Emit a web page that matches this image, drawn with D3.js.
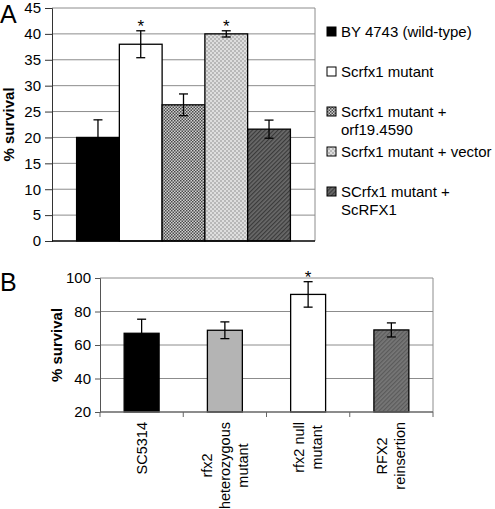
<!DOCTYPE html>
<html><head><meta charset="utf-8">
<script src="https://cdn.jsdelivr.net/npm/d3@7"></script>
<style>
body{margin:0;background:#fff;}
text{font-family:"Liberation Sans",Arial,sans-serif;fill:#000;}
</style></head>
<body><svg id="c" width="495" height="509"></svg>
<script>
// Panel A data
const seriesA = ["BY 4743 (wild-type)", "Scrfx1 mutant", "Scrfx1 mutant + orf19.4590", "Scrfx1 mutant + vector", "SCrfx1 mutant + ScRFX1"];
const legendLinesA = [["BY 4743 (wild-type)"], ["Scrfx1 mutant"], ["Scrfx1 mutant +", "orf19.4590"], ["Scrfx1 mutant + vector"], ["SCrfx1 mutant +", "ScRFX1"]];
const valuesA = [20, 38, 26.3, 40, 21.6];
const errorsA = [3.4, 2.6, 2.1, 0.6, 1.75];
const signifA = [false, true, false, true, false];
const ticksA = [0, 5, 10, 15, 20, 25, 30, 35, 40, 45];

// Panel B data
const categoriesB = ["SC5314", "rfx2 heterozygous mutant", "rfx2 null mutant", "RFX2 reinsertion"];
const labelLinesB = [["SC5314"], ["rfx2", "heterozygous", "mutant"], ["rfx2 null", "mutant"], ["RFX2", "reinsertion"]];
const valuesB = [67, 68.8, 90.2, 69];
const errorsB = [8.4, 5, 7.6, 4.2];
const signifB = [false, false, true, false];
const ticksB = [20, 40, 60, 80, 100];

const svg = d3.select("#c");
const defs = svg.append("defs");

function checker(id, dark, light, size) {
  const p = defs.append("pattern").attr("id", id).attr("width", size*2).attr("height", size*2).attr("patternUnits", "userSpaceOnUse");
  p.append("rect").attr("width", size*2).attr("height", size*2).attr("fill", light);
  p.append("rect").attr("width", size).attr("height", size).attr("fill", dark);
  p.append("rect").attr("x", size).attr("y", size).attr("width", size).attr("height", size).attr("fill", dark);
}
checker("pCheck", "#4a4a4a", "#d0d0d0", 1.5);
checker("pLight", "#b8b8b8", "#dedede", 2);
function diag(id, bg, fg, w) {
  const p = defs.append("pattern").attr("id", id).attr("width", 3).attr("height", 3).attr("patternUnits", "userSpaceOnUse").attr("patternTransform", "rotate(45)");
  p.append("rect").attr("width", 3).attr("height", 3).attr("fill", bg);
  p.append("rect").attr("width", w).attr("height", 3).attr("fill", fg);
}
diag("pDark", "#6a6a6a", "#3a3a3a", 1.2);
diag("pDarkB", "#777", "#5a5a5a", 1.2);

const fillsA = ["#000", "#fff", "url(#pCheck)", "url(#pLight)", "url(#pDark)"];
const fillsB = ["#000", "#b4b4b4", "#fff", "url(#pDarkB)"];

// ---------- Panel A ----------
const A = {l: 52, r: 315, t: 8, b: 241};
const yA = d3.scaleLinear().domain([0, 45]).range([A.b, A.t]);
const groupA = d3.scaleBand().domain(["g"]).range([A.l, A.r]).paddingOuter(0.115).paddingInner(0);
const xA = d3.scaleBand().domain(d3.range(seriesA.length)).range([groupA("g"), groupA("g") + groupA.bandwidth()]).padding(0);

const gA = svg.append("g");
gA.append("g").selectAll("line").data(ticksA.filter(t => t > 0)).join("line")
  .attr("x1", A.l).attr("x2", A.r).attr("y1", d => yA(d)).attr("y2", d => yA(d))
  .attr("stroke", "#8c8c8c").attr("stroke-width", 1);
gA.append("line").attr("x1", A.r).attr("x2", A.r).attr("y1", A.t).attr("y2", A.b).attr("stroke", "#8c8c8c");
const axA = gA.append("g").attr("transform", `translate(${A.l},0)`).call(d3.axisLeft(yA).tickValues(ticksA).tickSize(7).tickPadding(4));
axA.select(".domain").attr("stroke", "#333");
axA.selectAll(".tick line").attr("stroke", "#333");
axA.selectAll("text").attr("font-size", 15).attr("font-family", "Liberation Sans, Arial, sans-serif");
gA.append("g").selectAll("rect").data(valuesA).join("rect")
  .attr("x", (d, i) => xA(i)).attr("width", xA.bandwidth())
  .attr("y", d => yA(d)).attr("height", d => yA(0) - yA(d))
  .attr("fill", (d, i) => fillsA[i]).attr("stroke", "#000").attr("stroke-width", 1.3);
gA.append("line").attr("x1", A.l).attr("x2", A.r).attr("y1", A.b).attr("y2", A.b).attr("stroke", "#000").attr("stroke-width", 1.3);
const ebA = gA.append("g").attr("stroke", "#000").attr("stroke-width", 1.3);
valuesA.forEach((v, i) => {
  const cx = xA(i) + xA.bandwidth() / 2;
  ebA.append("line").attr("x1", cx).attr("x2", cx).attr("y1", yA(v - errorsA[i])).attr("y2", yA(v + errorsA[i]));
  [v - errorsA[i], v + errorsA[i]].forEach(e => ebA.append("line").attr("x1", cx - 4.5).attr("x2", cx + 4.5).attr("y1", yA(e)).attr("y2", yA(e)));
  if (signifA[i]) gA.append("text").attr("x", cx).attr("y", yA(v + errorsA[i]) + 1).attr("text-anchor", "middle").attr("font-size", 17).text("*");
});
gA.append("text").attr("transform", `translate(14,${(A.t + A.b) / 2}) rotate(-90)`).attr("text-anchor", "middle")
  .attr("font-size", 15).attr("font-weight", "bold").text("% survival");
svg.append("text").attr("x", 0).attr("y", 23).attr("font-size", 25).text("A");
const leg = svg.append("g");
legendLinesA.forEach((lines, i) => {
  const y0 = 32 + i * 40;
  leg.append("rect").attr("x", 327).attr("y", y0 - 5).attr("width", 9).attr("height", 9)
    .attr("fill", fillsA[i]).attr("stroke", "#000").attr("stroke-width", 1);
  lines.forEach((ln, j) => leg.append("text").attr("x", 341).attr("y", y0 + 5 + j * 18).attr("font-size", 15).text(ln));
});

// ---------- Panel B ----------
const B = {l: 100, r: 433, t: 278, b: 412};
const yB = d3.scaleLinear().domain([20, 100]).range([B.b, B.t]);
const xB = d3.scaleBand().domain(categoriesB).range([B.l, B.r]);
const barW = xB.bandwidth() * 0.42;
const gB = svg.append("g");
gB.append("g").selectAll("line").data(ticksB.filter(t => t > 20)).join("line")
  .attr("x1", B.l).attr("x2", B.r).attr("y1", d => yB(d)).attr("y2", d => yB(d))
  .attr("stroke", "#8c8c8c");
gB.append("line").attr("x1", B.r).attr("x2", B.r).attr("y1", B.t).attr("y2", B.b).attr("stroke", "#8c8c8c");
const axB = gB.append("g").attr("transform", `translate(${B.l},0)`).call(d3.axisLeft(yB).tickValues(ticksB).tickSize(5).tickPadding(4));
axB.select(".domain").attr("stroke", "#555");
axB.selectAll(".tick line").attr("stroke", "#555");
axB.selectAll("text").attr("font-size", 15).attr("font-family", "Liberation Sans, Arial, sans-serif");
gB.append("g").selectAll("rect").data(valuesB).join("rect")
  .attr("x", (d, i) => xB(categoriesB[i]) + (xB.bandwidth() - barW) / 2).attr("width", barW)
  .attr("y", d => yB(d)).attr("height", d => yB(20) - yB(d))
  .attr("fill", (d, i) => fillsB[i]).attr("stroke", "#000").attr("stroke-width", 1.3);
gB.append("line").attr("x1", B.l).attr("x2", B.r).attr("y1", B.b).attr("y2", B.b).attr("stroke", "#666").attr("stroke-width", 1.3);
const bounds = categoriesB.map(c => xB(c)).concat([B.r]);
gB.append("g").selectAll("line").data(bounds).join("line")
  .attr("x1", d => d).attr("x2", d => d).attr("y1", B.b).attr("y2", B.b + 5).attr("stroke", "#666");
const ebB = gB.append("g").attr("stroke", "#000").attr("stroke-width", 1.3);
valuesB.forEach((v, i) => {
  const cx = xB(categoriesB[i]) + xB.bandwidth() / 2;
  ebB.append("line").attr("x1", cx).attr("x2", cx).attr("y1", yB(v - errorsB[i])).attr("y2", yB(v + errorsB[i]));
  [v - errorsB[i], v + errorsB[i]].forEach(e => ebB.append("line").attr("x1", cx - 4.5).attr("x2", cx + 4.5).attr("y1", yB(e)).attr("y2", yB(e)));
  if (signifB[i]) gB.append("text").attr("x", cx).attr("y", yB(v + errorsB[i]) + 1).attr("text-anchor", "middle").attr("font-size", 17).text("*");
});
labelLinesB.forEach((lines, i) => {
  const cx = xB(categoriesB[i]) + xB.bandwidth() / 2;
  const n = lines.length;
  const g = gB.append("g");
  const texts = lines.map((ln, j) => g.append("text").attr("text-anchor", "middle").attr("font-size", 14.5).text(ln));
  const maxW = d3.max(texts, t => t.node().getComputedTextLength());
  const cy = B.b + 10 + maxW / 2;
  texts.forEach((t, j) => {
    const bx = cx + (j - (n - 1) / 2) * 18 + 5;
    t.attr("transform", `translate(${bx},${cy}) rotate(-90)`);
  });
});
gB.append("text").attr("transform", `translate(62,${(B.t + B.b) / 2}) rotate(-90)`).attr("text-anchor", "middle")
  .attr("font-size", 15).attr("font-weight", "bold").text("% survival");
svg.append("text").attr("x", 0).attr("y", 291).attr("font-size", 25).text("B");
</script></body></html>
